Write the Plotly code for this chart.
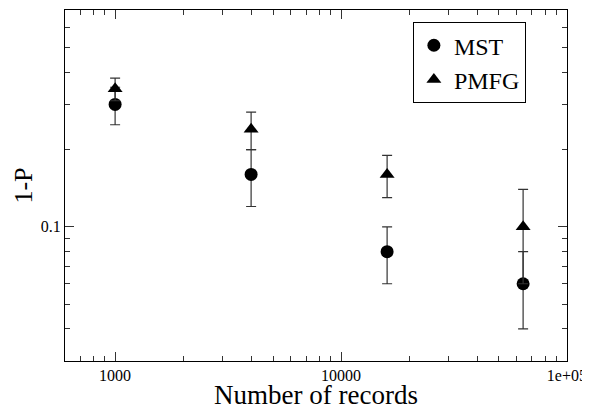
import plotly.graph_objects as go
import math

records = [1000, 4000, 16000, 64000]
mst = [0.30, 0.16, 0.08, 0.06]
mst_err = [0.05, 0.04, 0.02, 0.02]
pmfg = [0.345, 0.24, 0.16, 0.10]
pmfg_err = [0.035, 0.04, 0.03, 0.04]

x_tickvals = [1000, 10000, 100000]
x_ticktext = ["1000", "10000", "1e+05"]
y_tickvals = [0.1]
y_ticktext = ["0.1"]

FONT = "Liberation Serif"

fig = go.Figure()
fig.add_trace(go.Scatter(
    x=records, y=mst, mode="markers", name="MST",
    marker=dict(symbol="circle", size=13, color="black"),
    error_y=dict(type="data", array=mst_err, visible=True, color="#333333", thickness=1.2, width=5),
))
fig.add_trace(go.Scatter(
    x=records, y=pmfg, mode="markers", name="PMFG",
    marker=dict(symbol="triangle-up", size=13, color="black"),
    error_y=dict(type="data", array=pmfg_err, visible=True, color="#333333", thickness=1.2, width=5),
))

axis_common = dict(
    type="log", showgrid=False, zeroline=False,
    showline=True, linecolor="black", linewidth=1.3, mirror="allticks",
    ticks="inside", ticklen=9, tickwidth=1, tickcolor="#333333",
    tickfont=dict(family=FONT, size=16, color="black"),
    minor=dict(ticks="inside", ticklen=5, tickwidth=1, tickcolor="#333333", dtick="D1", showgrid=False),
)

# the page body has an 8px margin, so the figure is shifted; compensate in the margins
fig.update_layout(
    width=582, height=402,
    margin=dict(l=57, r=23, t=2, b=49),
    paper_bgcolor="white", plot_bgcolor="white",
    font=dict(family=FONT, color="black"),
    showlegend=True,
    legend=dict(
        x=0.693, y=0.850, xanchor="left", yanchor="middle",
        bordercolor="black", borderwidth=1, bgcolor="white",
        font=dict(family=FONT, size=24, color="black"),
        tracegroupgap=0, itemsizing="trace",
    ),
    xaxis=dict(
        **axis_common,
        range=[math.log10(600), 5.0005],
        tickmode="array", tickvals=x_tickvals, ticktext=x_ticktext,
        title=dict(text="Number of records", font=dict(family=FONT, size=27), standoff=20),
        automargin=False,
    ),
    yaxis=dict(
        **axis_common,
        range=[math.log10(0.03), math.log10(0.7)],
        tickmode="array", tickvals=y_tickvals, ticktext=y_ticktext,
        title=dict(text="1-P", font=dict(family=FONT, size=26), standoff=0),
        automargin=False,
    ),
)

fig.write_html("out.html")
